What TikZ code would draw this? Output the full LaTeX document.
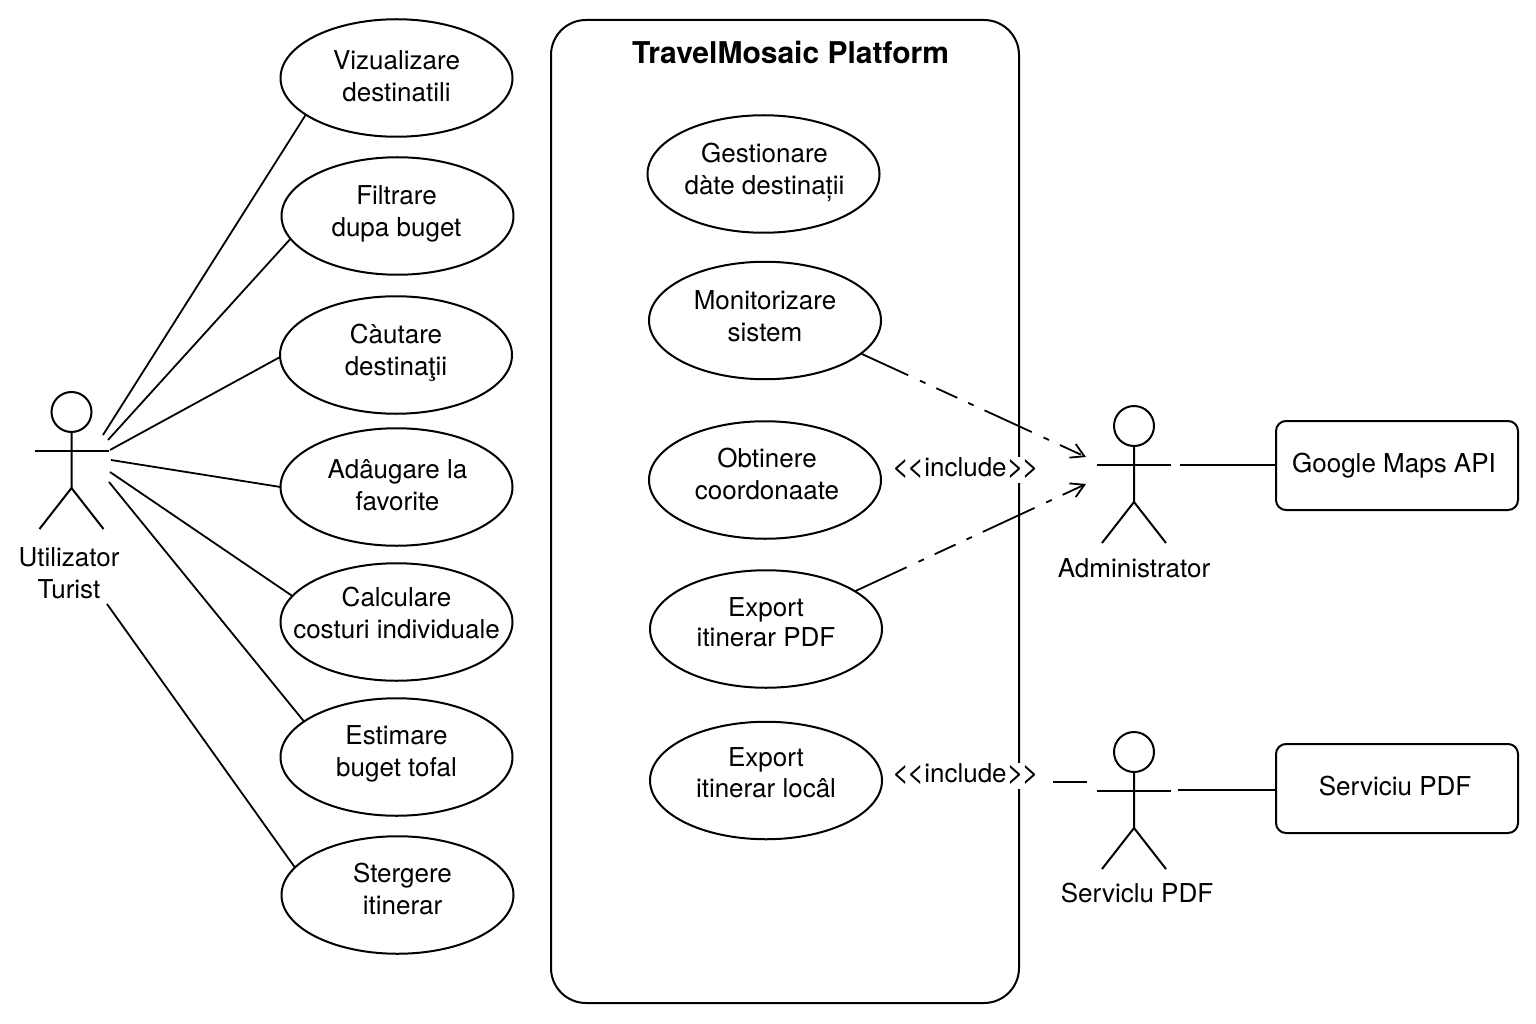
\documentclass[tikz,border=0pt]{standalone}
\usepackage{fontspec}
\setmainfont{TeX Gyre Heros}
\usetikzlibrary{positioning, shapes.geometric, arrows.meta, calc}

\newcommand{\inctext}{{\fontsize{30}{32}\selectfont <\kern-2.5pt<}include{\fontsize{30}{32}\selectfont >\kern-2.5pt>}}

\begin{document}
\begin{tikzpicture}[
    x=1pt, y=-1pt,
    usecase/.style={draw, ellipse, line width=2pt, minimum width=232pt, minimum height=117.5pt, inner sep=0pt, outer sep=0pt},
    extbox/.style={draw, rounded corners=10pt, line width=2pt, minimum width=242pt, minimum height=89pt, inner sep=0pt, outer sep=0pt},
    uctext/.style={align=center, inner sep=0pt, font=\fontsize{26}{32}\selectfont},
    inclabel/.style={fill=white, inner xsep=0pt, inner ysep=0pt, text height=19pt, text depth=7pt, font=\fontsize{26}{32}\selectfont},
    conn/.style={line width=1.8pt},
    inc/.style={line width=1.8pt, dash pattern=on #1 off 13pt on 6pt off 12pt on 23pt off 12pt on 6pt off 12pt, -{Straight Barb[length=13pt,width=15pt]}}
]
    \useasboundingbox (0,0) rectangle (1536,1024);

    % System boundary
    \node[draw, rounded corners=35pt, line width=2pt, minimum width=468pt, minimum height=983pt, inner sep=0pt, outer sep=0pt] (sys) at (785,511.5) {};
    \node[below=21pt of sys.north, xshift=5.5pt, inner sep=0pt, font=\bfseries\fontsize{30}{32}\selectfont] (sysTitle) {TravelMosaic Platform};

    % Left use cases
    \foreach \nm/\xx/\yy/\dx/\dy/\txt in {View/396.5/78/0/-2/Vizualizare\\destinatili, Filter/397.5/216/-1/-2/Filtrare\\dupa buget, Search/396/355/0/-2/Càutare\\destinaţii, Fav/396.5/487/1/-2/Adâugare la\\favorite, Cost/396.5/622/0/-9/Calculare\\costuri individuale, Budget/396.5/757/0/-3/Estimare\\buget tofal, Del/397.5/895/5/-6/Stergere\\itinerar} {
        \node[usecase] (uc\nm) at (\xx,\yy) {};
        \node[uctext] (txt\nm) at ($(uc\nm)+(\dx,\dy)$) {\txt};
    }

    % Use cases inside the platform
    \foreach \nm/\xx/\yy/\dx/\dy/\txt in {Manage/763.5/174/1/-2/Gestionare\\dàte destinații, Monitor/765/320.5/0/-4/Monitorizare\\sistem, Coord/765/480/2/-6/Obtinere\\coordonaate, ExpPdf/766/629/0/-7/Export\\[-2pt]itinerar PDF, ExpLocal/766/780.5/0/-8/Export\\[-1pt]itinerar locâl} {
        \node[usecase] (uc\nm) at (\xx,\yy) {};
        \node[uctext] (txt\nm) at ($(uc\nm)+(\dx,\dy)$) {\txt};
    }

    % Actors
    \foreach \nm/\xx/\yy in {Tourist/71.5/412, Admin/1134/426, Pdf/1134/752} {
        \node[draw, circle, line width=2pt, minimum size=40pt, inner sep=0pt, outer sep=0pt] (act\nm) at (\xx,\yy) {};
        \draw[line width=2pt] (act\nm.south) -- ++(0,56) coordinate (hip\nm) -- ++(-32,41) coordinate (legL\nm);
        \draw[line width=2pt] (hip\nm) -- ++(32,41) coordinate (legR\nm);
        \draw[line width=2pt] ($(act\nm.south)+(-37,19)$) coordinate (armL\nm) -- ++(74,0) coordinate (armR\nm);
    }

    % Actor names
    \node[uctext] (nameTourist) at (69,573) {Utilizator\\Turist};
    \node[uctext] (nameAdmin) at (1134,568) {Administrator};
    \node[uctext] (namePdf) at (1137,893) {Serviclu PDF};

    % External systems
    \node[extbox] (boxMaps) at (1397,465.5) {};
    \node[uctext] (txtMaps) at (1394,465.5) {Google Maps API};
    \node[extbox] (boxPdf) at (1397,788.5) {};
    \node[uctext] (txtPdf) at (1395,786.5) {Serviciu PDF};

    % Tourist links
    \foreach \nm/\ang/\ex/\ey in {View/202/103/435, Filter/192.7/108/440, Search/181.5/110/450, Fav/180/111/460, Cost/166.8/110/472, Budget/159/109/482, Del/165.8/107/604} {
        \coordinate (end\nm) at (\ex,\ey);
        \draw[conn] (uc\nm.\ang) -- (end\nm);
    }

    % Admin links
    \coordinate (tipUp) at (1086,457);
    \coordinate (tipDown) at (1086,484);
    \draw[inc=52pt] (ucMonitor.341.5) -- (tipUp);
    \draw[inc=57pt] (ucExpPdf.23.7) -- (tipDown);
    \node[inclabel] (incAdmin) at (965.5,470) {\inctext};

    % Pdf links
    \node[inclabel] (incPdf) at (965.5,776) {\inctext};
    \coordinate (pdfA) at (1053,782);
    \coordinate (pdfB) at (1087,782);
    \draw[conn] (pdfA) -- (pdfB);

    % Actor to external system
    \coordinate (adminOut) at (1180,465);
    \coordinate (pdfOut) at (1178,790);
    \draw[conn] (adminOut) -- (boxMaps.west |- adminOut);
    \draw[conn] (pdfOut) -- (boxPdf.west |- pdfOut);

\end{tikzpicture}
\end{document}
